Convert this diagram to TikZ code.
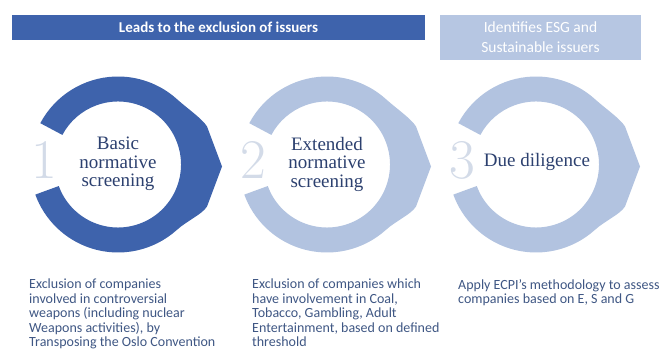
\documentclass[tikz,border=0pt]{standalone}
\usepackage{fontspec}
\setmainfont{Liberation Serif}
\newfontfamily\bodyfont{Carlito}
\definecolor{stagedark}{HTML}{3E63AC}
\definecolor{stagelight}{HTML}{B2C3E0}
\definecolor{barlight}{HTML}{B6C6E2}
\definecolor{labelnavy}{HTML}{2C406F}
\definecolor{numeralgray}{HTML}{D3DBE8}
\definecolor{bodyblue}{HTML}{3F5784}
\begin{document}
\begin{tikzpicture}[x=1pt,y=-1pt,
  stagering/.pic={
    % open ring with a pointer on its right side
    \fill[pic actions] (208:88) arc[start angle=208,end angle=312,radius=88]
      .. controls (69.3,-56) and (84,-46) .. (89,-38) -- (104,2) -- (89,42)
      .. controls (84,50) and (69.3,56) .. (408:88)
      arc[start angle=408,end angle=520,radius=88]
      -- (520:63) arc[start angle=520,end angle=208,radius=63] -- cycle;
  },
  ringtext/.style={align=center,text=labelnavy,inner sep=0pt,
    font=\fontsize{19}{18.5}\selectfont},
  numeral/.style={text=numeralgray,inner sep=0pt,
    font=\fontspec{Latin Modern Roman}\fontsize{56}{56}\selectfont},
  bodytext/.style={align=left,text=bodyblue,inner sep=0pt,anchor=north west,
    font=\bodyfont\fontsize{14}{14.4}\selectfont},
  barbox/.style={inner sep=0pt,text=white,align=center},
]
\useasboundingbox (0,0) rectangle (662,352);
\clip (0,0) rectangle (662,352);
\fill[white] (0,0) rectangle (662,352);

% header bars
\node[barbox,fill=stagedark,minimum width=413pt,minimum height=25pt,
  font=\bodyfont\bfseries\fontsize{15}{18}\selectfont] (excl) at (218.5,27.5)
  {Leads to the exclusion of issuers};
\node[barbox,fill=barlight,minimum width=201pt,minimum height=45pt,
  font=\bodyfont\fontsize{15.5}{20}\selectfont] (esg) at (540.5,37.5)
  {Identifies ESG and\\Sustainable issuers};

% stage rings
\pic[fill=stagedark] at (118,164.5) {stagering};
\pic[fill=stagelight] at (327,164.5) {stagering};
\pic[fill=stagelight] at (536,164.5) {stagering};

% stage numbers
\node[numeral] (one) at (44,160) {1};
\node[numeral] (two) at (253,160) {2};
\node[numeral] (three) at (462,160) {3};

% stage titles
\node[ringtext] (basic) at (118,164) {Basic\\normative\\screening};
\node[ringtext] (extended) at (327,164) {Extended\\normative\\screening};
\node[ringtext] (due) at (537,162) {Due diligence};

% descriptions
\node[bodytext] (desc1) at (29,279) {Exclusion of companies\\involved in controversial\\weapons (including nuclear\\Weapons activities), by\\Transposing the Oslo Convention};
\node[bodytext] (desc2) at (252,279) {Exclusion of companies which\\have involvement in Coal,\\Tobacco, Gambling, Adult\\Entertainment, based on defined\\threshold};
\node[bodytext] (desc3) at (458,279) {Apply ECPI’s methodology to assess\\companies based on E, S and G};
\end{tikzpicture}
\end{document}
